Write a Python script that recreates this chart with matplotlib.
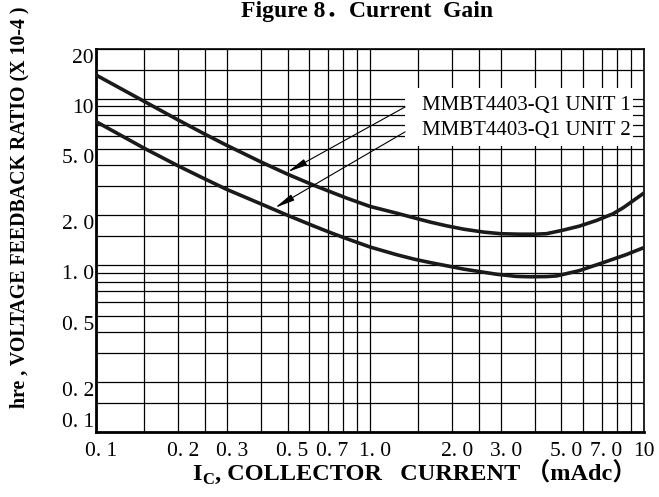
import numpy as np
import matplotlib
matplotlib.use("Agg")
import matplotlib.pyplot as plt
from matplotlib.patches import Rectangle
import matplotlib.transforms as mtransforms

plt.rcParams['font.family'] = ['Liberation Serif', 'Noto Sans CJK SC', 'DejaVu Sans']

# collector current (mAdc) and feedback ratio (x 10^-4)
ic_unit1 = [0.1, 0.15, 0.2, 0.25, 0.3, 0.4, 0.5, 0.62, 0.72, 0.82, 1.0, 1.25, 1.45,
            1.66, 1.9, 2.2, 2.6, 3.0, 3.5, 4.0, 4.4, 5.0, 5.8, 6.7, 7.7, 8.4, 10]
hre_unit1 = [13.9, 9.65, 7.45, 6.13, 5.26, 4.18, 3.53, 3.04, 2.76, 2.54, 2.26, 2.06, 1.93,
             1.82, 1.73, 1.65, 1.585, 1.55, 1.54, 1.54, 1.55, 1.62, 1.72, 1.86, 2.04, 2.22, 2.72]
ic_unit2 = [0.1, 0.15, 0.2, 0.25, 0.3, 0.4, 0.5, 0.62, 0.72, 0.82, 1.0, 1.25, 1.45,
            1.66, 2.2, 2.9, 3.4, 3.8, 4.4, 4.8, 5.8, 7.1, 8.6, 10]
hre_unit2 = [7.3, 5.05, 3.95, 3.3, 2.86, 2.34, 2.0, 1.73, 1.57, 1.45, 1.29, 1.16, 1.09,
             1.04, 0.95, 0.885, 0.86, 0.855, 0.857, 0.865, 0.93, 1.04, 1.16, 1.28]
series_names = ['MMBT4403-Q1 UNIT 1', 'MMBT4403-Q1 UNIT 2']
arrow_x = [0.5, 0.45]

grid_x = [0.1, 0.15, 0.2, 0.25, 0.3, 0.4, 0.5, 0.6, 0.7, 0.8, 0.9,
          1, 1.5, 2, 2.5, 3, 4, 5, 6, 7, 8, 9, 10]
grid_y = [0.1, 0.15, 0.2, 0.3, 0.4, 0.5, 0.6, 0.7, 0.8, 0.9,
          1, 1.5, 2, 3, 4, 5, 6, 7, 8, 9, 10, 15, 20]
xtick_vals = [0.1, 0.2, 0.3, 0.5, 0.7, 1.0, 2.0, 3.0, 5.0, 7.0, 10]
xtick_labels = ['0. 1', '0. 2', '0. 3', '0. 5', '0. 7', '1. 0', '2. 0', '3. 0', '5. 0', '7. 0', '10']
ytick_vals = [20, 10, 5, 2, 1, 0.5, 0.2, 0.1]
ytick_labels = ['20', '10', '5. 0', '2. 0', '1. 0', '0. 5', '0. 2', '0. 1']

fig = plt.figure(figsize=(6.59, 4.97), dpi=100)
ax = fig.add_axes([0.1457, 0.1308, 0.8315, 0.7712])
ax.set_xscale('log')
ax.set_yscale('log')
ax.set_xlim(0.1, 10)
ax.set_ylim(0.1, 20)

ax.set_xticks(grid_x)
ax.set_yticks(grid_y)
ax.xaxis.set_minor_locator(matplotlib.ticker.NullLocator())
ax.yaxis.set_minor_locator(matplotlib.ticker.NullLocator())
ax.set_xticklabels([])
ax.set_yticklabels([])
ax.tick_params(length=0)
ax.grid(True, color='k', lw=0.9)

for side in ['left', 'bottom']:
    ax.spines[side].set_linewidth(2.0)
for side in ['top', 'right']:
    ax.spines[side].set_linewidth(1.2)

ax.plot(ic_unit1, hre_unit1, color='#1a1a1a', lw=2.6, zorder=4, solid_joinstyle='round')
ax.plot(ic_unit2, hre_unit2, color='#1a1a1a', lw=2.6, zorder=4, solid_joinstyle='round')

# tick labels as text
tx = mtransforms.blended_transform_factory(ax.transData, ax.transAxes)
off = mtransforms.ScaledTranslation(5 / 100, 0, fig.dpi_scale_trans)
for v, s in zip(xtick_vals, xtick_labels):
    tr = tx if s == '10' else tx + off
    ax.text(v, -0.026, s, transform=tr, ha='center', va='top', fontsize=15.5, clip_on=False)
ty = mtransforms.blended_transform_factory(ax.transAxes, ax.transData)
for v, s in zip(ytick_vals, ytick_labels):
    ax.text(-0.004, v, s, transform=ty, ha='right', va='bottom' if v == 0.1 else 'top',
            fontsize=15.5, clip_on=False)

# legend box with arrows
ax.add_patch(Rectangle((0.564, 0.746), 0.416, 0.151, transform=ax.transAxes,
                       facecolor='white', edgecolor='none', zorder=3))
ax.text(0.594, 0.840, series_names[0], transform=ax.transAxes, fontsize=15, zorder=5)
ax.text(0.594, 0.775, series_names[1], transform=ax.transAxes, fontsize=15, zorder=5)

curves = [(ic_unit1, hre_unit1), (ic_unit2, hre_unit2)]
starts = [(0.564, 0.848), (0.564, 0.783)]
for (cx, cy), xa, st in zip(curves, arrow_x, starts):
    ya = 10 ** np.interp(np.log10(xa), np.log10(cx), np.log10(cy))
    ax.annotate('', xy=(xa, ya * 1.03), xycoords='data', xytext=st, textcoords='axes fraction',
                arrowprops=dict(arrowstyle='-|>,head_length=1.2,head_width=0.2', color='k',
                                lw=0.8, shrinkA=0, shrinkB=0, mutation_scale=10), zorder=5)

fig.text(0.557, 0.976, 'Figure 8．Current  Gain', ha='center', va='center',
         fontsize=17, fontweight='bold')
fig.text(0.029, 0.582, 'hre , VOLTAGE FEEDBACK RATIO (X 10-4 )', rotation=90,
         ha='center', va='center', fontsize=14.3, fontweight='bold')

# x axis title: I with subscript C, then the rest
t_i = fig.text(0.2914, 0.034, 'I', ha='left', va='baseline', fontsize=17.5, fontweight='bold')
ax.annotate('C', xy=(1, 0), xycoords=t_i, xytext=(0.5, -2), textcoords='offset points',
            ha='left', va='bottom', fontsize=12, fontweight='bold', annotation_clip=False)
ax.annotate(', COLLECTOR   CURRENT （mAdc）', xy=(1, 0), xycoords=t_i, xytext=(10, 0),
            textcoords='offset points', ha='left', va='bottom', fontsize=17.5,
            fontweight='bold', annotation_clip=False)

fig.savefig('out.png', dpi=100)
